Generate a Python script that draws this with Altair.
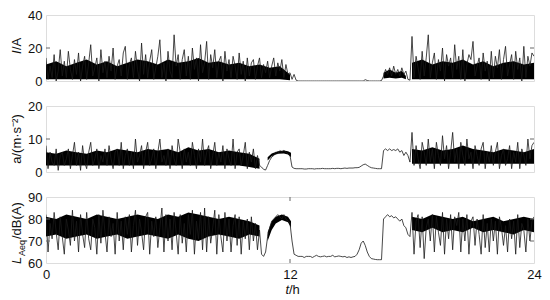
import altair as alt
import pandas as pd

# time grid: 0.0 .. 24.0 h in 0.1 h steps
hours = [round(i * 0.1, 1) for i in range(241)]

current = [
    14, 1, 9, 2, 16, 0, 6, 19, 3, 12,
    2, 18, 7, 1, 13, 4, 17, 0, 9, 15,
    1, 11, 22, 3, 8, 14, 0, 19, 5, 12,
    2, 15, 6, 20, 1, 9, 13, 3, 17, 21,
    1, 10, 14, 2, 18, 7, 0, 23, 4, 16,
    2, 12, 19, 1, 8, 15, 25, 2, 11, 0,
    18, 6, 2, 28, 9, 16, 1, 13, 19, 3,
    15, 1, 20, 7, 14, 0, 22, 5, 11, 24,
    1, 16, 8, 19, 2, 12, 15, 0, 18, 6,
    13, 2, 15, 9, 1, 17, 4, 12, 0, 14,
    3, 11, 13, 1, 9, 14, 2, 10, 5, 12,
    2, 9, 14, 3, 11, 6, 13, 2, 10, 4,
    5, 1, 4, 0.5, 0, 0, 0, 0, 0, 0,
    0, 0, 0, 0, 0, 0, 0, 0, 0, 0,
    0, 0, 0, 0, 0, 0, 0, 0, 0, 0,
    0, 0, 0, 0, 0, 0, 0, 0.8, 0.3, 0,
    0, 0, 0, 0, 0, 0.3, 3, 7, 4, 8,
    3, 9, 4, 7, 3, 8, 4, 6, 1, 0.5,
    27, 2, 15, 8, 1, 18, 3, 14, 28, 2,
    11, 17, 1, 13, 6, 20, 0, 16, 9, 14,
    2, 22, 7, 15, 1, 19, 0, 10, 16, 13,
    24, 3, 9, 14, 1, 17, 6, 12, 0, 18,
    2, 15, 8, 19, 1, 13, 21, 3, 10, 16,
    1, 18, 7, 14, 0, 21, 2, 15, 9, 17,
    15,
]

accel = [
    8, 1, 6, 3, 2, 7, 0.5, 5, 6, 2,
    4, 7, 1, 5, 9, 2, 6, 0.5, 8, 3,
    1, 6, 9, 2, 4, 7, 1, 5, 3, 7,
    2, 8, 4, 1, 6, 7, 2, 9, 1, 5,
    7, 2, 6, 1, 10, 3, 5, 8, 1, 6,
    9, 2, 4, 7, 1, 6, 10, 3, 5, 2,
    7, 1, 8, 4, 2, 10, 6, 1, 7, 3,
    6, 2, 9, 5, 1, 7, 3, 10, 2, 6,
    8, 1, 5, 9, 2, 6, 3, 8, 1, 7,
    4, 2, 10, 1, 6, 7, 2, 5, 9, 1,
    6, 3, 7, 1, 5, 2, 1.5, 0.8, 0.6, 2,
    3.5, 4.5, 5, 6, 5.5, 6.5, 6, 6.5, 6, 5.5,
    5, 1.5, 1.1, 1.0, 1.0, 1.0, 1.0, 0.9, 0.9, 1.0,
    1.0, 1.0, 0.9, 1.0, 1.0, 1.0, 1.1, 1.0, 1.0, 1.0,
    1.0, 1.1, 1.0, 1.1, 1.1, 1.0, 1.1, 1.2, 1.1, 1.2,
    1.2, 1.2, 1.3, 1.3, 1.4, 1.8, 2.2, 2.4, 2.0, 1.6,
    1.3, 1.2, 1.1, 1.0, 1.0, 1.0, 6.5, 7, 6.5, 7,
    6.5, 6.8, 6.5, 7, 6, 6.5, 5, 6, 5, 3,
    12, 2, 8, 4, 1, 9, 6, 2, 10, 3,
    7, 1, 9, 5, 2, 11, 4, 8, 1, 6,
    12, 3, 7, 1, 9, 5, 2, 10, 4, 6,
    1, 8, 5, 2, 7, 9, 1, 6, 3, 8,
    2, 6, 9, 1, 5, 7, 2, 4, 8, 1,
    6, 3, 9, 1, 7, 5, 2, 10, 4, 8,
    9,
]

laeq = [
    82, 65, 78, 71, 83, 74, 66, 81, 72, 64,
    80, 75, 68, 84, 70, 79, 65, 82, 73, 67,
    83, 71, 66, 80, 76, 64, 82, 69, 84, 74,
    65, 81, 72, 78, 64, 83, 70, 79, 66, 81,
    73, 82, 65, 77, 84, 68, 80, 74, 66, 81,
    83, 64, 79, 72, 81, 67, 76, 85, 65, 82,
    70, 80, 66, 83, 74, 64, 82, 69, 78, 65,
    82, 73, 84, 64, 79, 71, 83, 66, 85, 65,
    81, 69, 76, 84, 64, 82, 72, 65, 83, 70,
    80, 65, 77, 82, 68, 81, 64, 79, 71, 80,
    66, 81, 70, 78, 66, 75, 64, 63, 65, 72,
    76, 79, 80, 81, 82, 81, 80, 82, 80, 79,
    78, 70, 64, 63.5, 63, 63, 63, 62.5, 63, 63,
    63, 62.5, 63, 63.5, 63, 62.8, 63, 63.2, 62.8, 63,
    63, 63.5, 62.8, 63, 63.2, 63, 62.8, 63, 62.5, 62.8,
    62.5, 62.8, 63, 64, 66, 69, 70, 68, 65, 63,
    62, 61.8, 61.6, 61.5, 61.5, 61.5, 80, 81, 82, 81,
    81.5, 80.5, 81, 80, 79, 80, 77, 76, 73, 72,
    83, 64, 79, 82, 67, 81, 62, 76, 80, 70,
    82, 65, 81, 74, 68, 83, 64, 80, 71, 82,
    66, 81, 77, 83, 65, 80, 70, 82, 64, 79,
    81, 68, 80, 73, 64, 82, 67, 78, 65, 80,
    70, 79, 64, 81, 76, 68, 77, 65, 80, 71,
    79, 64, 82, 67, 78, 75, 65, 80, 70, 79,
    81,
]

# dense "core" envelopes of the noisy signals (time, low, high, segment)
i_band_t = [0, 0.5, 1, 1.5, 2, 2.5, 3, 3.5, 4, 4.5, 5, 5.5, 6, 6.5, 7, 7.5, 8, 8.5,
            9, 9.5, 10, 10.5, 11, 11.5, 12.0,
            16.6, 16.9, 17.2, 17.5, 17.7,
            18, 18.5, 19, 19.5, 20, 20.5, 21, 21.5, 22, 22.5, 23, 23.5, 24]
i_band_lo = [1] * 24 + [0.5] + [1.5, 2, 1.5, 2, 1] + [1] * 13
i_band_hi = [10, 12, 9, 11, 13, 10, 12, 9, 11, 13, 12, 10, 13, 11, 12, 14, 11, 12,
             10, 11, 9, 10, 8, 9, 4,
             5, 7, 5, 6, 3,
             11, 13, 10, 12, 11, 13, 10, 12, 9, 11, 12, 10, 11]
i_band_seg = [1] * 25 + [2] * 5 + [3] * 13

a_band_t = [0, 0.5, 1, 1.5, 2, 2.5, 3, 3.5, 4, 4.5, 5, 5.5, 6, 6.5, 7, 7.5, 8, 8.5,
            9, 9.5, 10, 10.5,
            10.9, 11.1, 11.4, 11.7, 11.9, 12.05,
            18, 18.5, 19, 19.5, 20, 20.5, 21, 21.5, 22, 22.5, 23, 23.5, 24]
a_band_lo = [2] * 20 + [1.5, 1] + [3.5, 4.8, 5.5, 5.6, 5.3, 4.5] + [2.5] * 13
a_band_hi = [6, 5.5, 6.5, 6, 5.5, 6.5, 6, 7, 6.5, 6, 7, 6.5, 7, 6, 7.5, 6.5, 7, 6,
             6.5, 6, 5.5, 4,
             4.5, 5.6, 6.3, 6.5, 6.3, 5.8,
             7, 6.5, 7.5, 6.5, 7, 8, 7, 6.5, 6, 7, 6.5, 6, 7]
a_band_seg = [1] * 22 + [2] * 6 + [3] * 13

l_band_t = [0, 0.5, 1, 1.5, 2, 2.5, 3, 3.5, 4, 4.5, 5, 5.5, 6, 6.5, 7, 7.5, 8, 8.5,
            9, 9.5, 10, 10.5,
            10.9, 11.1, 11.3, 11.6, 11.9, 12.05,
            18, 18.5, 19, 19.5, 20, 20.5, 21, 21.5, 22, 22.5, 23, 23.5, 24]
l_band_lo = [72, 73, 71, 72, 73, 71, 72, 73, 71, 72, 73, 72, 71, 73, 71, 70, 72, 73,
             72, 71, 73, 72,
             70, 75, 78, 79.5, 78.5, 76,
             75, 74, 76, 74, 75, 74, 76, 74, 75, 74, 73, 75, 74]
l_band_hi = [81, 80, 82, 81, 80, 82, 81, 80, 81, 82, 81, 80, 82, 81, 83, 82, 81, 80,
             81, 80, 79, 77,
             74, 79, 81, 82, 81, 79,
             81, 80, 82, 81, 80, 81, 79, 80, 81, 79, 80, 81, 80]
l_band_seg = [1] * 22 + [2] * 6 + [3] * 13

x_ticks = [0, 12, 24]
FONT = "Liberation Sans"
W, H = 488, 66

df = pd.DataFrame({"t": hours, "I": current, "a": accel, "L": laeq})


def panel(field, band, ydomain, yticks, inner_ticks, titles, show_x=False):
    xsc = alt.Scale(domain=[0, 24], nice=False, zero=False)
    ysc = alt.Scale(domain=ydomain, nice=False, zero=False)
    if show_x:
        xax = alt.Axis(values=x_ticks, title=None, ticks=False, domain=False,
                       grid=False, labelFont=FONT, labelFontSize=13,
                       labelColor="#111", labelPadding=5, labelFlush=False,
                       labelOverlap=False)
    else:
        xax = None
    yax = alt.Axis(values=yticks, title=None, ticks=False, domain=False, grid=False,
                   labelFont=FONT, labelFontSize=13, labelColor="#111",
                   labelPadding=4, labelFlush=False, labelOverlap=False)

    bt, blo, bhi, bseg = band
    bdf = pd.DataFrame({"t": bt, "lo": blo, "hi": bhi, "seg": bseg})
    area = alt.Chart(bdf).mark_area(color="black", opacity=1, interpolate="linear").encode(
        x=alt.X("t:Q", scale=xsc, axis=xax),
        y=alt.Y("lo:Q", scale=ysc, axis=yax),
        y2="hi:Q",
        detail="seg:N",
    )
    line = alt.Chart(df).mark_line(color="#1a1a1a", strokeWidth=0.8, clip=True).encode(
        x=alt.X("t:Q", scale=xsc, axis=xax),
        y=alt.Y(f"{field}:Q", scale=ysc, axis=yax),
    )
    tdf = pd.DataFrame({"v": inner_ticks})
    tl = alt.Chart(tdf).mark_rule(color="#666", strokeWidth=1).encode(
        y=alt.Y("v:Q", scale=ysc, axis=yax), x=alt.value(0), x2=alt.value(4))
    tr = alt.Chart(tdf).mark_rule(color="#666", strokeWidth=1).encode(
        y=alt.Y("v:Q", scale=ysc, axis=yax), x=alt.value(W - 4), x2=alt.value(W))
    layers = [area, line, tl, tr]
    for (txt, size, style, xo, yo, align) in titles:
        layers.append(
            alt.Chart(pd.DataFrame({"s": [txt]})).mark_text(
                font=FONT, fontSize=size, fontStyle=style, angle=270, align=align,
                baseline="alphabetic", color="#111"
            ).encode(text="s:N", x=alt.value(xo), y=alt.value(yo))
        )
    if show_x:
        xdf = pd.DataFrame({"v": [12]})
        layers.append(alt.Chart(xdf).mark_rule(color="#666").encode(
            x=alt.X("v:Q", scale=xsc, axis=xax), y=alt.value(H), y2=alt.value(H - 4)))
        layers.append(alt.Chart(xdf).mark_rule(color="#666").encode(
            x=alt.X("v:Q", scale=xsc, axis=xax), y=alt.value(0), y2=alt.value(4)))
        layers.append(alt.Chart(pd.DataFrame({"s": ["t"]})).mark_text(
            font=FONT, fontSize=13, fontStyle="italic", align="right", baseline="middle",
            color="#111").encode(text="s:N", x=alt.value(W / 2 - 1), y=alt.value(H + 27)))
        layers.append(alt.Chart(pd.DataFrame({"s": ["/h"]})).mark_text(
            font=FONT, fontSize=13, align="left", baseline="middle",
            color="#111").encode(text="s:N", x=alt.value(W / 2 - 1), y=alt.value(H + 27)))
    return alt.layer(*layers).properties(width=W, height=H)


p1 = panel("I", (i_band_t, i_band_lo, i_band_hi, i_band_seg), [0, 40], [0, 20, 40], [20],
           [("I", 13, "italic", -25, 39, "left"), ("/A", 13, "normal", -25, 35, "left")])
p2 = panel("a", (a_band_t, a_band_lo, a_band_hi, a_band_seg), [0, 20], [0, 10, 20], [10],
           [("a/(m·s⁻²)", 13, "normal", -25, H / 2, "center")])
p3 = panel("L", (l_band_t, l_band_lo, l_band_hi, l_band_seg), [60, 90], [60, 70, 80, 90], [70, 80],
           [("L", 13, "italic", -25, 67, "left"),
            ("Aeq", 9, "normal", -21, 59, "left"),
            ("/dB(A)", 13, "normal", -25, 42, "left")],
           show_x=True)

chart = alt.vconcat(p1, p2, p3, spacing=10).properties(
    padding={"left": 2, "top": 0, "right": 0, "bottom": 0}
).configure_view(
    stroke="#7a7a7a", strokeWidth=1
).configure(background="white")

chart.save("out.html", embed_options={"renderer": "svg", "actions": False})
